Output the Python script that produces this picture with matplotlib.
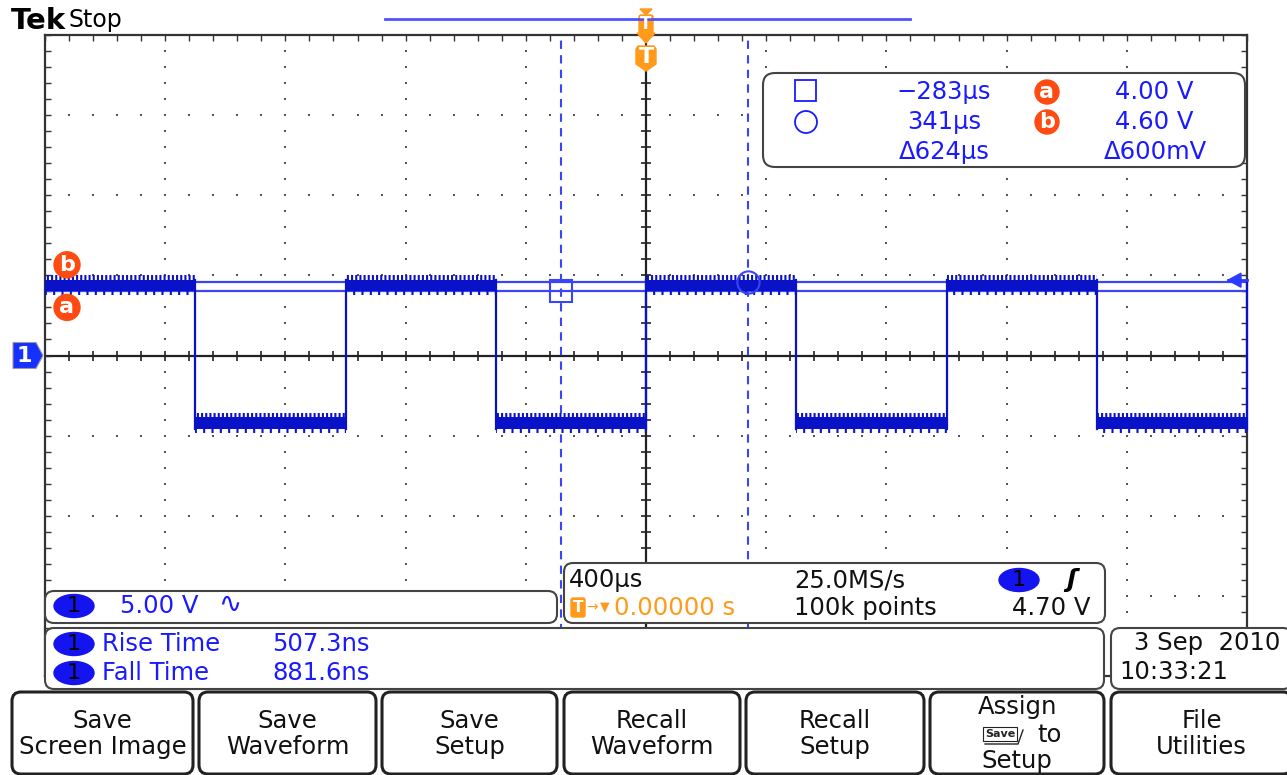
import numpy as np
import matplotlib
matplotlib.use("Agg")
import matplotlib.pyplot as plt
from matplotlib.patches import FancyBboxPatch, Ellipse, Rectangle, Circle, Polygon

# ---------------- data ----------------
time_per_div_us = 400
volts_per_div = 5.0
n_hdiv = 10
n_vdiv = 8
segment_bounds_us = [-2000, -1500, -1000, -500, 0, 500, 1000, 1500, 2000]
segment_state = [1, 0, 1, 0, 1, 0, 1, 0]        # 1 = high level, 0 = low level
final_edge_us = [2000]                          # rising edge at the right border
high_band_v = [4.0, 4.7]
high_spike_v = [3.8, 5.0]
low_band_v = [-4.6, -3.85]
low_spike_v = [-4.85, -3.6]
cursor_t_us = [-283, 341]
cursor_v = [4.00, 4.60]
trigger_level_v = 4.70
trigger_pos_s = 0.0
sample_rate_label = "25.0MS/s"
record_label = "100k points"
rise_time_ns = 507.3
fall_time_ns = 881.6
date_label = "3 Sep  2010"
clock_label = "10:33:21"
button_labels = [["Save", "Screen Image"], ["Save", "Waveform"], ["Save", "Setup"],
                 ["Recall", "Waveform"], ["Recall", "Setup"], ["Assign", "to", "Setup"],
                 ["File", "Utilities"]]
button_x = [(12, 193), (199, 376), (382, 557), (564, 740), (746, 924), (930, 1104), (1111, 1292)]

# ---------------- style ----------------
W, H = 1287, 775
WAVE = "#0a12c8"
CUR = "#3a46f5"
TXT_BLUE = "#1a1aff"
ORANGE = "#ff9a1a"
RED = "#ff4a12"
BADGE = "#1414f0"
GRID = "#555555"
FRAME = "#333333"
FS = 17.5

plt.rcParams["font.family"] = ["DejaVu Sans"]
plt.rcParams["hatch.linewidth"] = 1.5

fig = plt.figure(figsize=(W / 100, H / 100), dpi=100)
fig.patch.set_facecolor("white")

gl, gt, gw, gh = 45, 35, 1202, 641
ax = fig.add_axes([gl / W, 1 - (gt + gh) / H, gw / W, gh / H])
tspan = time_per_div_us * n_hdiv / 2
vspan = volts_per_div * n_vdiv / 2
ax.set_xlim(-tspan, tspan)
ax.set_ylim(-vspan, vspan)
ax.set_facecolor("white")
for s in ax.spines.values():
    s.set_color(FRAME)
    s.set_linewidth(1.6)
minor_t = np.arange(-tspan, tspan + 1, time_per_div_us / 5)
minor_v = np.arange(-vspan, vspan + 0.01, volts_per_div / 5)
ax.set_xticks(minor_t)
ax.set_yticks(minor_v)
ax.tick_params(which="both", direction="in", length=4, width=1, colors=FRAME,
               top=True, right=True, labelbottom=False, labelleft=False)

# graticule dots
major_t = [t for t in np.arange(-tspan + time_per_div_us, tspan, time_per_div_us) if abs(t) > 1e-9]
major_v = [v for v in np.arange(-vspan + volts_per_div, vspan, volts_per_div) if abs(v) > 1e-9]
for t in major_t:
    ax.scatter(np.full(minor_v.size, t), minor_v, s=3.5, c=GRID, marker="s", lw=0, zorder=1)
for v in major_v:
    ax.scatter(minor_t, np.full(minor_t.size, v), s=3.5, c=GRID, marker="s", lw=0, zorder=1)
# center lines with ticks
ax.axhline(0, color="#222222", lw=1.6, zorder=1.5)
ax.axvline(0, color="#222222", lw=1.6, zorder=1.5)
ax.plot(minor_t, np.zeros(minor_t.size), ls="none", marker="|", ms=7, mew=1.2, color="#222222", zorder=1.5)
ax.plot(np.zeros(minor_v.size), minor_v, ls="none", marker="_", ms=7, mew=1.2, color="#222222", zorder=1.5)

# cursors
for v in cursor_v:
    ax.axhline(v, color=CUR, lw=1.6, zorder=2)
for t in cursor_t_us:
    ax.axvline(t, color=CUR, lw=1.5, ls=(0, (4, 3)), zorder=2)

# waveform
for i, st in enumerate(segment_state):
    t0, t1 = segment_bounds_us[i], segment_bounds_us[i + 1]
    band = high_band_v if st else low_band_v
    spk = high_spike_v if st else low_spike_v
    ax.fill_between([t0, t1], band[0], band[1], color=WAVE, lw=0, zorder=3)
    ax.fill_between([t0, t1], band[1], spk[1], facecolor="none", edgecolor=WAVE, hatch="||||", lw=0, zorder=3)
    ax.fill_between([t0, t1], spk[0], band[0], facecolor="none", edgecolor=WAVE, hatch="||", lw=0, zorder=3)
edges = segment_bounds_us[1:-1] + final_edge_us
for t in edges:
    ax.plot([t, t], [low_band_v[0], high_band_v[1]], color=WAVE, lw=1.6, zorder=3, clip_on=False)

# cursor markers
ax.plot(cursor_t_us[0], cursor_v[0], marker="s", ms=16, mfc="none", mec=CUR, mew=1.5, zorder=4)
ax.plot(cursor_t_us[1], cursor_v[1], marker="o", ms=16, mfc="none", mec=CUR, mew=1.5, zorder=4)

fig.canvas.draw()


def to_px(t, v):
    x, y = ax.transData.transform((t, v))
    return x, H - y


# ---------------- overlay (pixel coordinates) ----------------
ov = fig.add_axes([0, 0, 1, 1], zorder=10)
ov.set_xlim(0, W)
ov.set_ylim(H, 0)
ov.axis("off")
ov.patch.set_alpha(0)


def rbox(x0, y0, x1, y1, r=9, ec="#444444", lw=1.5, fc="white"):
    ov.add_patch(FancyBboxPatch((x0, y0), x1 - x0, y1 - y0,
                                boxstyle=f"round,pad=0,rounding_size={r}",
                                ec=ec, fc=fc, lw=lw))


def txt(x, y, s, size=FS, color="#111111", ha="left", weight="normal", **kw):
    ov.text(x, y, s, fontsize=size, color=color, ha=ha, va="center", fontweight=weight, **kw)


def badge(cx, cy):
    ov.add_patch(Ellipse((cx, cy), 40, 23, color=BADGE))
    txt(cx, cy, "1", size=16, color="#000000", ha="center")


# header
txt(11, 21, "Tek", size=21, weight="bold", color="#000000")
txt(68, 20, "Stop", size=17, color="#000000")
ov.plot([385, 910], [19, 19], color="#5050ff", lw=2)

# trigger position markers
x0, _ = to_px(trigger_pos_s * 1e6, 0)
ov.add_patch(Polygon([(x0 - 6, 9), (x0 + 6, 9), (x0, 15)], color=ORANGE))
ov.add_patch(FancyBboxPatch((x0 - 7, 15), 14, 18, boxstyle="round,pad=0,rounding_size=2", color=ORANGE))
txt(x0, 24, "T", size=12, color="white", ha="center", weight="bold")
ov.add_patch(Polygon([(x0 - 9, 33), (x0 + 9, 33), (x0, 43)], color=ORANGE))
ov.add_patch(Polygon([(x0 - 10, 49), (x0 - 8, 46), (x0 + 8, 46), (x0 + 10, 49), (x0 + 10, 64),
                      (x0, 71), (x0 - 10, 64)], color=ORANGE))
txt(x0, 57, "T", size=16, color="white", ha="center", weight="bold")

# channel 1 ground marker
_, yg = to_px(0, 0)
ov.add_patch(Polygon([(13, yg - 13), (36, yg - 13), (43, yg), (36, yg + 13), (13, yg + 13)],
                     fc="#1530ff", ec="#9a9a9a", lw=0.8))
txt(24, yg, "1", size=16, color="white", ha="center", weight="bold")

# a / b cursor level markers
_, yb = to_px(0, cursor_v[1])
_, ya = to_px(0, cursor_v[0])
for cy, lab in [(yb - 17, "b"), (ya + 16, "a")]:
    ov.add_patch(Circle((67, cy), 13, color=RED))
    txt(67, cy, lab, size=16, color="white", ha="center", weight="bold")

# trigger level arrow
_, yt = to_px(0, trigger_level_v)
ov.add_patch(Polygon([(1228, yt), (1241, yt - 7), (1241, yt + 7)], color="#2a3cff"))
ov.plot([1228, 1247], [yt, yt], color="#2a3cff", lw=2)

# cursor readout box
rbox(763, 73, 1245, 167, r=12)


def fmt_us(t):
    return ("\u2212" if t < 0 else "") + f"{abs(t)}\u00b5s"


ov.add_patch(Rectangle((795, 80), 21, 21, fill=False, ec=TXT_BLUE, lw=1.3))
ov.add_patch(Circle((806, 122), 11, fill=False, ec=TXT_BLUE, lw=1.3))
txt(944, 92, fmt_us(cursor_t_us[0]), color=TXT_BLUE, ha="center")
txt(944, 122, fmt_us(cursor_t_us[1]), color=TXT_BLUE, ha="center")
txt(944, 152, "\u0394" + f"{cursor_t_us[1] - cursor_t_us[0]}\u00b5s", color=TXT_BLUE, ha="center")
for cy, lab in [(92, "a"), (122, "b")]:
    ov.add_patch(Circle((1047, cy), 12, color=RED))
    txt(1047, cy, lab, size=16, color="white", ha="center", weight="bold")
txt(1154, 92, f"{cursor_v[0]:.2f} V", color=TXT_BLUE, ha="center")
txt(1154, 122, f"{cursor_v[1]:.2f} V", color=TXT_BLUE, ha="center")
txt(1155, 152, "\u0394" + f"{(cursor_v[1] - cursor_v[0]) * 1000:.0f}mV", color=TXT_BLUE, ha="center")

# channel box
rbox(45, 591, 557, 623, r=9)
badge(74, 606)
txt(120, 606, f"{volts_per_div:.2f} V", color=TXT_BLUE)
txt(218, 604, "\u223f", size=20, color=TXT_BLUE)

# horizontal / trigger box
rbox(564, 563, 1105, 623, r=9)
txt(569, 580, f"{time_per_div_us}\u00b5s")
txt(794, 580, sample_rate_label)
badge(1019, 580)
txt(1066, 580, "\u0283", size=18, color="#000000", weight="bold", style="italic")
ov.add_patch(FancyBboxPatch((571, 598), 14, 19, boxstyle="round,pad=0,rounding_size=2", color=ORANGE))
txt(578, 607.5, "T", size=11, color="white", ha="center", weight="bold")
txt(586, 607, "\u2192", size=10, color=ORANGE)
txt(600, 607, "\u25bc", size=9, color=ORANGE)
txt(614, 608, f"{trigger_pos_s:.5f} s", color=ORANGE)
txt(794, 608, record_label)
txt(1090, 608, f"{trigger_level_v:.2f} V", ha="right")

# measurement box
rbox(45, 628, 1104, 689, r=9)
badge(74, 644)
badge(74, 673)
txt(102, 644, "Rise Time", color=TXT_BLUE)
txt(102, 673, "Fall Time", color=TXT_BLUE)
txt(272, 644, f"{rise_time_ns:.1f}ns", color=TXT_BLUE)
txt(272, 673, f"{fall_time_ns:.1f}ns", color=TXT_BLUE)

# date box
rbox(1111, 628, 1292, 689, r=9)
txt(1134, 643, date_label)
txt(1119, 672, clock_label)

# soft buttons
for (bx0, bx1), labels in zip(button_x, button_labels):
    rbox(bx0, 692, bx1, 774, r=9, ec="#222222", lw=2.2)
    cx = (bx0 + bx1) / 2
    if len(labels) == 2:
        txt(cx, 721, labels[0], ha="center")
        txt(cx, 747, labels[1], ha="center")
    else:
        txt(cx, 707, labels[0], ha="center")
        ov.text(1000, 734, "Save", fontsize=8, fontweight="bold", color="#222222",
                ha="center", va="center",
                bbox=dict(boxstyle="square,pad=0.15", fc="white", ec="#222222", lw=0.8))
        ov.plot([985, 1018, 1023], [744, 744, 730], color="#222222", lw=1.0)
        txt(1037, 735, labels[1])
        txt(cx, 761, labels[2], ha="center")

fig.savefig("out.png", dpi=100, facecolor="white")
